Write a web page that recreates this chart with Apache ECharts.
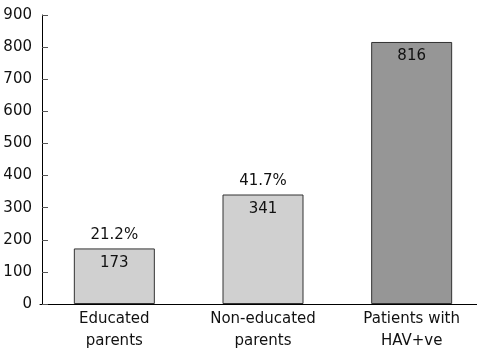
<!DOCTYPE html>
<html>
<head>
<meta charset="utf-8">
<script src="https://cdn.jsdelivr.net/npm/echarts@6/dist/echarts.min.js"></script>
<style>
  html, body { margin: 0; padding: 0; background: #fff; }
  #chart { width: 477px; height: 354px; }
</style>
</head>
<body>
<div id="chart"></div>
<script>
var categories = ['Educated\nparents', 'Non-educated\nparents', 'Patients with\nHAV+ve'];
var counts = [173, 341, 816];
var percents = ['21.2%', '41.7%', ''];
var barColors = ['#d0d0d0', '#d0d0d0', '#969696'];

var chart = echarts.init(document.getElementById('chart'));
var font = 'DejaVu Sans';
var option = {
    animation: false,
    grid: { left: 40, right: -9, top: 15, bottom: 50, outerBoundsMode: 'none' },
    xAxis: {
        type: 'category',
        data: categories,
        axisLine: { lineStyle: { color: '#000', width: 1 } },
        axisTick: { show: false },
        axisLabel: {
            color: '#111', fontFamily: font, fontSize: 15,
            lineHeight: 22, margin: 4
        }
    },
    yAxis: {
        type: 'value',
        min: 0,
        max: 900,
        interval: 100,
        offset: -2,
        splitLine: { show: false },
        axisLine: { show: true, lineStyle: { color: '#000', width: 1 } },
        axisTick: { show: true, inside: true, length: 6, lineStyle: { color: '#555' } },
        axisLabel: { color: '#111', fontFamily: font, fontSize: 15, margin: 10 }
    },
    series: [{
        type: 'bar',
        barWidth: 81,
        data: counts.map(function (v, i) {
            return { value: v, itemStyle: { color: barColors[i] } };
        }),
        itemStyle: { borderColor: '#333', borderWidth: 1 },
        label: {
            show: true,
            position: 'insideTop',
            distance: 7,
            color: '#111',
            fontFamily: font,
            fontSize: 15
        },
        z: 2
    }, {
        type: 'bar',
        barWidth: 81,
        barGap: '-100%',
        data: counts,
        itemStyle: { color: 'transparent' },
        label: {
            show: true,
            position: 'top',
            distance: 6,
            color: '#111',
            fontFamily: font,
            fontSize: 15,
            formatter: function (p) { return percents[p.dataIndex]; }
        },
        silent: true,
        z: 1
    }]
};
chart.setOption(option);
</script>
</body>
</html>
